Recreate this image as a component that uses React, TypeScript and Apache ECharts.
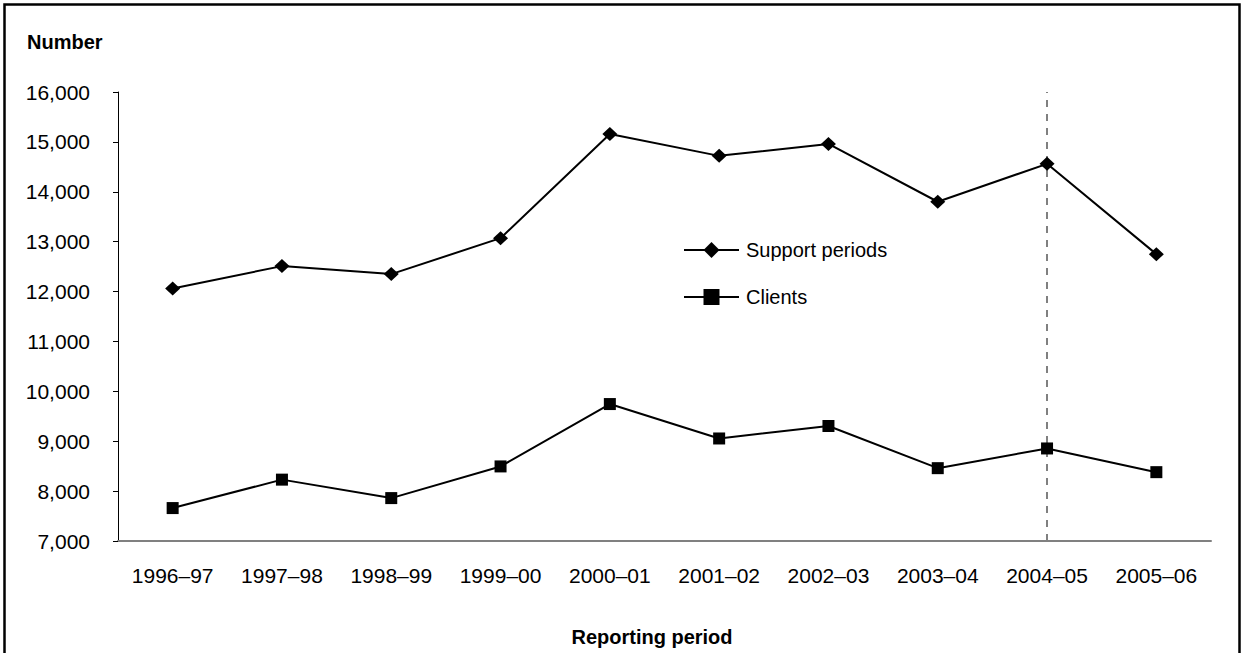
import React, { useEffect, useRef } from "react";
import * as echarts from "echarts";

const categories = ["1996–97", "1997–98", "1998–99", "1999–00", "2000–01", "2001–02", "2002–03", "2003–04", "2004–05", "2005–06"];
const supportPeriods = [12060, 12510, 12350, 13070, 15160, 14720, 14960, 13800, 14560, 12750];
const clients = [7660, 8230, 7860, 8495, 9745, 9055, 9305, 8460, 8855, 8380];
const markerPeriod = "2004–05";
const yMin = 7000;
const yMax = 16000;
const yInterval = 1000;

const FONT = "'Liberation Sans', Arial, sans-serif";

export default function App() {
  const ref = useRef<HTMLDivElement>(null);
  useEffect(() => {
    if (!ref.current) return;
    const chart = echarts.init(ref.current, null, { renderer: "svg" });
    chart.setOption({
      animation: false,
      backgroundColor: "#fff",
      textStyle: { fontFamily: FONT },
      grid: { left: 118, right: 31, top: 92, bottom: 112, containLabel: false },
      graphic: [
        {
          type: "rect",
          shape: { x: 4.5, y: 4.5, width: 1235, height: 700 },
          style: { fill: "none", stroke: "#000", lineWidth: 2.5 },
          silent: true,
        },
        {
          type: "text",
          x: 27,
          y: 42,
          style: { text: "Number", fontFamily: FONT, fontSize: 20, fontWeight: "bold", fill: "#000", textVerticalAlign: "middle" },
        },
        {
          type: "text",
          x: 652,
          y: 637,
          style: { text: "Reporting period", fontFamily: FONT, fontSize: 20, fontWeight: "bold", fill: "#000", textAlign: "center", textVerticalAlign: "middle" },
        },
      ],
      legend: {
        orient: "vertical",
        left: 678,
        top: 235,
        itemWidth: 55,
        itemHeight: 20,
        itemGap: 27,
        textStyle: { fontFamily: FONT, fontSize: 20, color: "#000", padding: [0, 0, 0, 2] },
        data: ["Support periods", "Clients"],
      },
      xAxis: {
        type: "category",
        data: categories,
        boundaryGap: true,
        axisLine: { lineStyle: { color: "#808080", width: 2 } },
        axisTick: { alignWithLabel: true, length: 5, lineStyle: { color: "#808080", width: 1 } },
        axisLabel: { fontFamily: FONT, fontSize: 21, color: "#000", margin: 24 },
        splitLine: { show: false },
      },
      yAxis: {
        type: "value",
        min: yMin,
        max: yMax,
        interval: yInterval,
        axisLine: { show: true, lineStyle: { color: "#000", width: 1 } },
        axisTick: { show: true, length: 5, lineStyle: { color: "#000", width: 1 } },
        axisLabel: {
          fontFamily: FONT,
          fontSize: 21,
          color: "#000",
          margin: 28,
          formatter: (v: number) => v.toLocaleString("en-US"),
        },
        splitLine: { show: false },
      },
      series: [
        {
          name: "Support periods",
          type: "line",
          data: supportPeriods,
          symbol: "diamond",
          symbolSize: [15, 14],
          lineStyle: { color: "#000", width: 2 },
          itemStyle: { color: "#000" },
          z: 3,
          markLine: {
            silent: true,
            symbol: "none",
            label: { show: false },
            lineStyle: { color: "#808080", type: [7, 7], width: 2, opacity: 1 },
            emphasis: { disabled: true },
            data: [{ xAxis: markerPeriod }],
            z: 1,
          },
        },
        {
          name: "Clients",
          type: "line",
          data: clients,
          symbol: "rect",
          symbolSize: 12,
          lineStyle: { color: "#000", width: 2 },
          itemStyle: { color: "#000" },
          z: 3,
        },
      ],
    });
    return () => chart.dispose();
  }, []);
  return <div ref={ref} style={{ position: "fixed", left: 0, top: 0, width: 1242, height: 653 }} />;
}
